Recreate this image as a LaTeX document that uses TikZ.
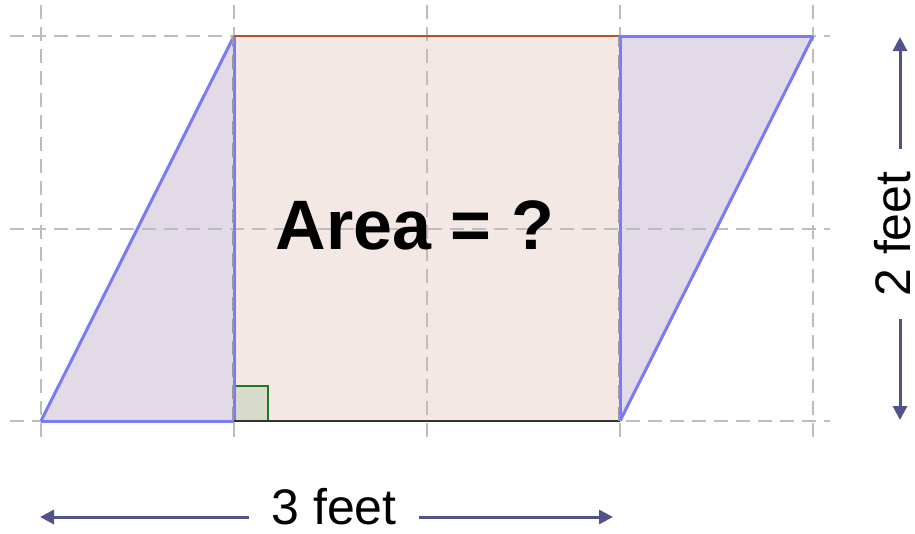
\documentclass[tikz,border=0pt]{standalone}
\usepackage{fontspec}
\setmainfont{Liberation Sans}
\usetikzlibrary{arrows.meta,positioning,calc}
\definecolor{gridgrey}{HTML}{BDBDBD}
\definecolor{edgeblue}{HTML}{7A7AF7}
\definecolor{paraviolet}{HTML}{E3DAE7}
\definecolor{rectpink}{HTML}{F4E8E4}
\definecolor{topbrown}{HTML}{B0542C}
\definecolor{basedark}{HTML}{333333}
\definecolor{anglegreen}{HTML}{1E7A1E}
\definecolor{anglefill}{HTML}{D8DBCB}
\definecolor{dimblue}{HTML}{52528A}
\tikzset{
  gridline/.style = {draw=gridgrey, line width=1.5pt, dash pattern=on 14pt off 8pt},
  edge/.style     = {draw=edgeblue, line width=3pt},
  dim/.style      = {-{Triangle[length=14pt,width=14pt]}, draw=dimblue, line width=3pt,
                     shorten <=22pt},
  title/.style    = {font=\fontsize{70}{80}\selectfont\bfseries, inner sep=0pt},
  lbl/.style      = {font=\fontsize{50}{58}\selectfont, inner sep=0pt, outer sep=0pt},
}
\begin{document}
\begin{tikzpicture}[x=1pt, y=-1pt]
  \useasboundingbox (0,0) rectangle (915,533);
  \coordinate (a) at (41,421);
  \coordinate (b) at (234,36);
  \coordinate (c) at (813,36);
  \coordinate (d) at (620,421);
  \coordinate (e) at (234,421);
  \coordinate (f) at (620,36);
  \fill[paraviolet] (a) -- (b) -- (c) -- (d) -- cycle;
  \fill[rectpink] (e) rectangle (f);
  \foreach \x in {41,234,427,620,813}
    \draw[gridline] (\x,5) -- (\x,440);
  \foreach \y in {36,229,421}
    \draw[gridline] (10,\y) -- (830,\y);
  \draw[fill=anglefill, draw=anglegreen, line width=2pt] (e) rectangle ++(34,-35);
  \draw[edge] (a) -- (b);
  \draw[edge] (c) -- (d);
  \draw[edge] (a) -- (e);
  \draw[edge] (f) -- (c);
  \draw[edge] (e) -- (b);
  \draw[edge] (d) -- (f);
  \draw[draw=topbrown, line width=2.5pt] (b) -- (f);
  \draw[draw=basedark, line width=2.5pt] (e) -- (d);
  \draw[gridline, draw=gray!80] ([xshift=-1pt]e) -- ([xshift=-1pt]b);
  \draw[gridline, draw=gray!80] ([xshift=-1pt]d) -- ([xshift=-1pt]f);
  \node[title] (area) at (415,225) {Area = ?};
  \coordinate (wl) at (40,517);
  \coordinate (wr) at (613,517);
  \node[lbl, anchor=base] (wide) at (334,524) {3 feet};
  \draw[dim] (wide.west |- wl) -- (wl);
  \draw[dim] (wide.east |- wr) -- (wr);
  \coordinate (ht) at (900,37);
  \coordinate (hb) at (900,420);
  \node[lbl, rotate=90] (tall) at (893,234) {2 feet};
  \draw[dim] (ht |- tall.east) -- (ht);
  \draw[dim] (hb |- tall.west) -- (hb);
\end{tikzpicture}
\end{document}
